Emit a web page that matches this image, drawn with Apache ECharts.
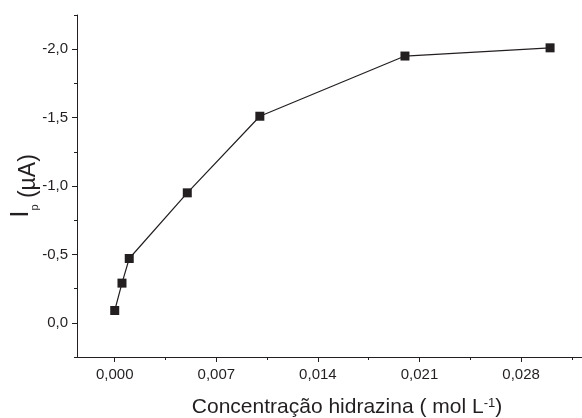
<!DOCTYPE html>
<html>
<head>
    <meta charset="utf-8">
    <title>Ip vs hidrazina</title>
    <script src="https://cdn.jsdelivr.net/npm/echarts@6/dist/echarts.min.js"></script>
    <style>
        html, body { margin: 0; padding: 0; background: #fff; }
        #chart { width: 582px; height: 418px; }
    </style>
</head>
<body>
<div id="chart"></div>
<script>
    // concentração (mol/L) e corrente de pico (µA)
    var concentracao = [0, 0.0005, 0.001, 0.005, 0.01, 0.02, 0.03];
    var corrente = [-0.09, -0.29, -0.47, -0.95, -1.51, -1.95, -2.01];

    var xTicks = [0, 0.007, 0.014, 0.021, 0.028];
    var xMinor = [0.0035, 0.0105, 0.0175, 0.0245, 0.0315];
    var yTicks = [-2.0, -1.5, -1.0, -0.5, 0.0];
    var yMinor = [-2.25, -1.75, -1.25, -0.75, -0.25, 0.25];

    var ink = '#231f20';
    var fonte = 'Liberation Sans, Arial, sans-serif';

    var pontos = concentracao.map(function (c, i) { return [c, corrente[i]]; });

    var chart = echarts.init(document.getElementById('chart'));
    chart.setOption({
        animation: false,
        backgroundColor: '#fff',
        grid: { left: 77, right: 0, top: 15, bottom: 61, containLabel: false, outerBoundsMode: 'none' },
        xAxis: [
            {
                type: 'value',
                min: -0.0026,
                max: 0.0322,
                position: 'bottom',
                splitLine: { show: false },
                axisLine: { onZero: false, lineStyle: { color: ink, width: 1 } },
                axisTick: { customValues: xTicks, length: 5, lineStyle: { color: ink } },
                axisLabel: {
                    customValues: xTicks,
                    margin: 10,
                    color: ink,
                    fontSize: 15,
                    fontFamily: fonte,
                    formatter: function (v) { return v.toFixed(3).replace('.', ','); }
                },
                name: 'Concentração hidrazina ( mol L{sup|-1})',
                nameLocation: 'middle',
                nameGap: 40,
                nameTextStyle: {
                    color: ink,
                    fontSize: 21,
                    fontFamily: fonte,
                    padding: [0, 0, 0, 35],
                    rich: {
                        sup: { fontSize: 13, verticalAlign: 'top', color: ink, fontFamily: fonte }
                    }
                }
            },
            {
                type: 'value',
                min: -0.0026,
                max: 0.0322,
                position: 'bottom',
                splitLine: { show: false },
                axisLine: { show: false, onZero: false },
                axisTick: { customValues: xMinor, length: 3, lineStyle: { color: ink } },
                axisLabel: { show: false }
            }
        ],
        yAxis: [
            {
                type: 'value',
                inverse: true,
                min: -2.25,
                max: 0.25,
                position: 'left',
                splitLine: { show: false },
                axisLine: { show: true, onZero: false, lineStyle: { color: ink, width: 1 } },
                axisTick: { show: true, customValues: yTicks, length: 5, lineStyle: { color: ink } },
                axisLabel: {
                    customValues: yTicks,
                    margin: 9,
                    color: ink,
                    fontSize: 15,
                    fontFamily: fonte,
                    formatter: function (v) {
                        if (Math.abs(v) < 1e-9) return '0,0';
                        return v.toFixed(1).replace('.', ',');
                    }
                },
                name: '{i|I}{sub|p}{n| (µA)}',
                nameLocation: 'middle',
                nameRotate: 90,
                nameGap: 37,
                nameMoveOverlap: false,
                nameTextStyle: {
                    color: ink,
                    fontFamily: fonte,
                    rich: {
                        i: { fontSize: 26, color: ink, fontFamily: fonte, verticalAlign: 'bottom', padding: [0, 0, 6, 0] },
                        sub: { fontSize: 11, color: ink, fontFamily: fonte, verticalAlign: 'bottom' },
                        n: { fontSize: 23, color: ink, fontFamily: fonte, verticalAlign: 'bottom' }
                    }
                }
            },
            {
                type: 'value',
                inverse: true,
                min: -2.25,
                max: 0.25,
                position: 'left',
                offset: 0,
                splitLine: { show: false },
                axisLine: { show: false, onZero: false },
                axisTick: { show: true, customValues: yMinor, length: 3, lineStyle: { color: ink } },
                axisLabel: { show: false }
            }
        ],
        series: [
            {
                type: 'line',
                xAxisIndex: 0,
                yAxisIndex: 0,
                data: pontos,
                symbol: 'rect',
                symbolSize: 9,
                itemStyle: { color: ink },
                lineStyle: { color: ink, width: 1.2 }
            }
        ]
    });
</script>
</body>
</html>
